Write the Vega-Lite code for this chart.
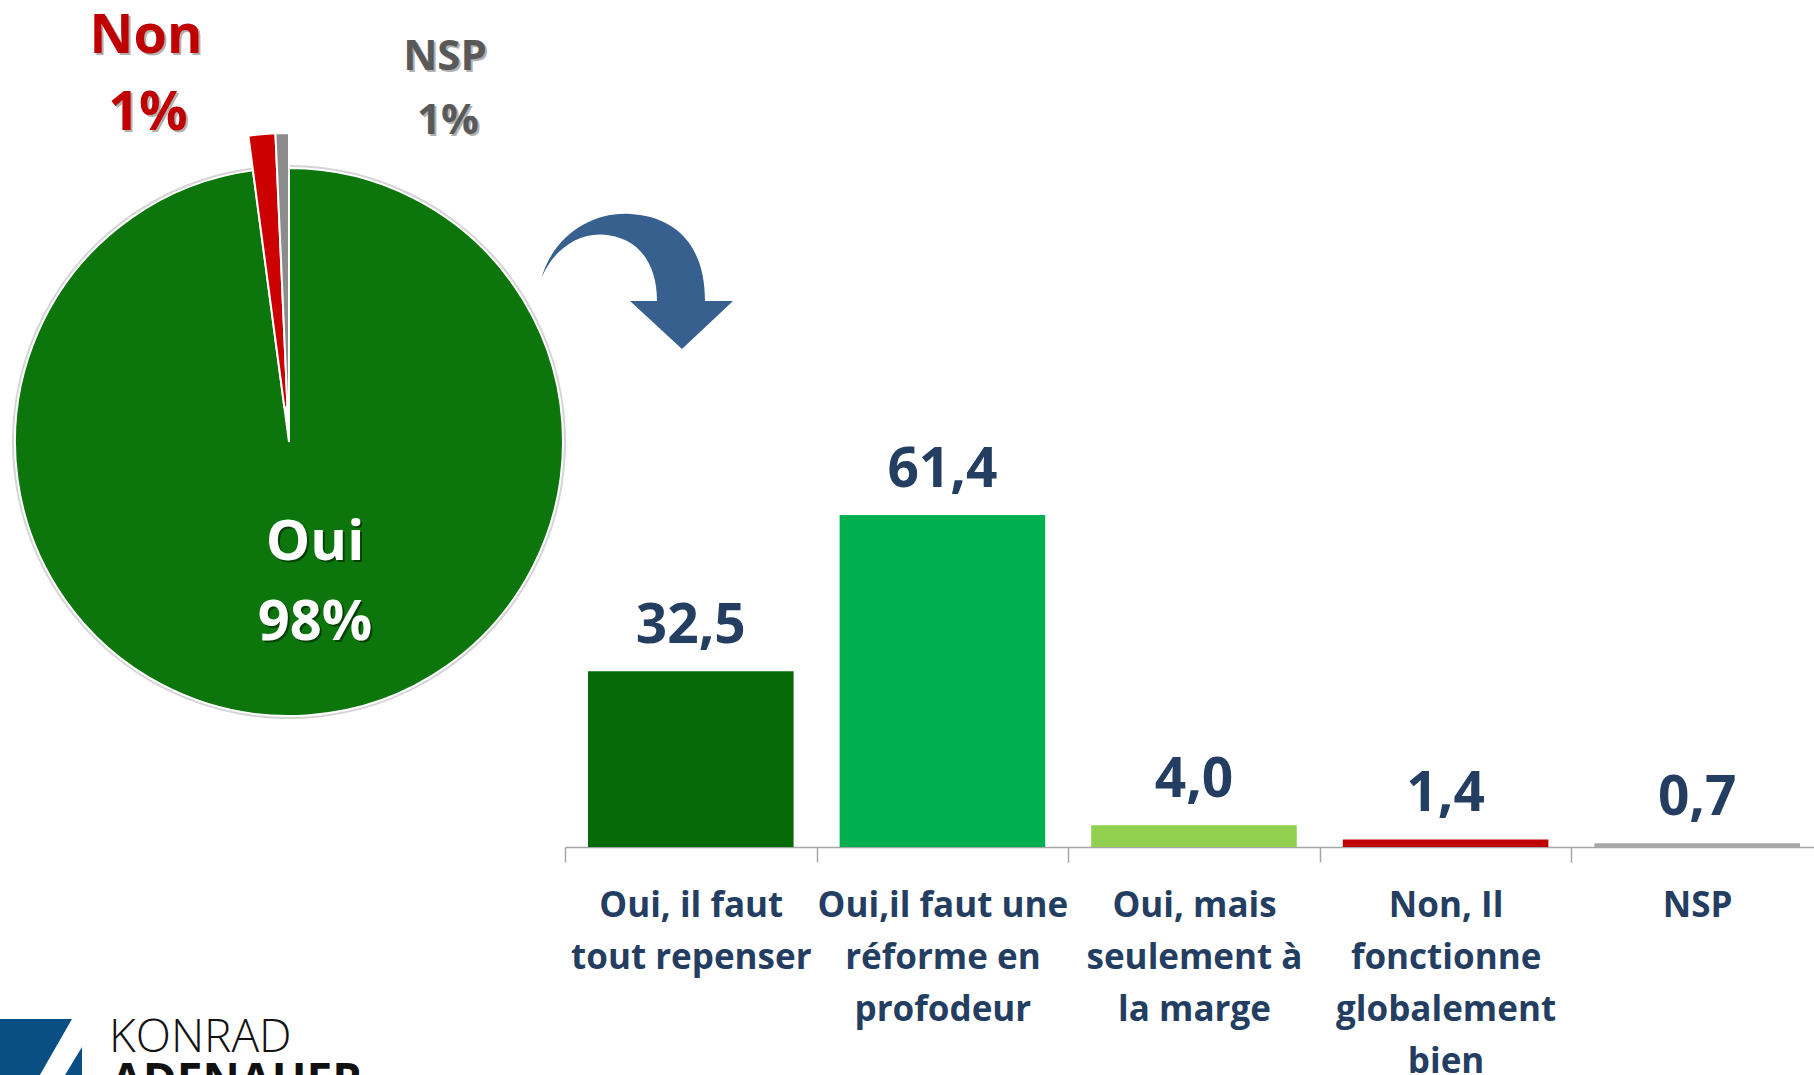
{
  "$schema": "https://vega.github.io/schema/vega-lite/v6.json",
  "padding": {"left": -20, "top": 0, "right": 0, "bottom": 0},
  "background": "white",
  "autosize": {"type": "pad"},
  "spacing": 0,
  "bounds": "flush",
  "config": {
    "view": {"stroke": null},
    "font": "Open Sans",
    "locale": {"number": {"decimal": ",", "thousands": ".", "grouping": [3], "currency": ["", " €"]}}
  },
  "resolve": {"scale": {"color": "independent"}},
  "datasets": {
    "pie": [
      {"k": "Oui", "v": 97.9, "p": "98%"},
      {"k": "Non", "v": 1.4, "p": "1%"},
      {"k": "NSP", "v": 0.7, "p": "1%"}
    ],
    "bars": [
      {"cat": "Oui, il faut|tout repenser", "v": 32.5},
      {"cat": "Oui,il faut une|réforme en|profodeur", "v": 61.4},
      {"cat": "Oui, mais|seulement à|la marge", "v": 4.0},
      {"cat": "Non, Il|fonctionne|globalement|bien", "v": 1.4},
      {"cat": "NSP", "v": 0.7}
    ]
  },
  "hconcat": [
    {
      "width": 578,
      "height": 884,
      "data": {"name": "pie"},
      "layer": [
        {
          "mark": {"type": "arc", "radius": 277, "fill": "#d4d4d4"},
          "encoding": {
            "theta": {"field": "v", "type": "quantitative"},
            "order": {"field": "v", "sort": "descending"},
            "opacity": {"condition": {"test": "datum.k === 'Oui'", "value": 1}, "value": 0}
          }
        },
        {
          "mark": {"type": "arc", "radius": 274, "stroke": "white", "strokeWidth": 2},
          "encoding": {
            "theta": {"field": "v", "type": "quantitative"},
            "order": {"field": "v", "sort": "descending"},
            "color": {"field": "k", "type": "nominal", "scale": {"domain": ["Oui", "Non", "NSP"], "range": ["#0c760c", "#cc0000", "#8c8c8c"]}, "legend": null},
            "opacity": {"condition": {"test": "datum.k === 'Oui'", "value": 1}, "value": 0}
          }
        },
        {
          "mark": {"type": "arc", "radius": 309, "radius2": 35, "stroke": "white", "strokeWidth": 2},
          "encoding": {
            "theta": {"field": "v", "type": "quantitative"},
            "order": {"field": "v", "sort": "descending"},
            "color": {"field": "k", "type": "nominal", "scale": {"domain": ["Oui", "Non", "NSP"], "range": ["#0c760c", "#cc0000", "#8c8c8c"]}, "legend": null},
            "opacity": {"condition": {"test": "datum.k !== 'Oui'", "value": 1}, "value": 0}
          }
        },
        {
          "transform": [{"filter": "datum.k === 'Non'"}],
          "mark": {"type": "text", "font": "Open Sans", "fontWeight": "bold", "fontSize": 54, "fill": "#000000", "opacity": 0.3, "align": "center", "baseline": "alphabetic", "dx": -141, "dy": -387},
          "encoding": {"text": {"field": "k"}}
        },
        {
          "transform": [{"filter": "datum.k === 'Non'"}],
          "mark": {"type": "text", "font": "Open Sans", "fontWeight": "bold", "fontSize": 54, "fill": "#c00000", "align": "center", "baseline": "alphabetic", "dx": -143, "dy": -389},
          "encoding": {"text": {"field": "k"}}
        },
        {
          "transform": [{"filter": "datum.k === 'Non'"}],
          "mark": {"type": "text", "font": "Open Sans", "fontWeight": "bold", "fontSize": 54, "fill": "#000000", "opacity": 0.3, "align": "center", "baseline": "alphabetic", "dx": -139, "dy": -310},
          "encoding": {"text": {"field": "p"}}
        },
        {
          "transform": [{"filter": "datum.k === 'Non'"}],
          "mark": {"type": "text", "font": "Open Sans", "fontWeight": "bold", "fontSize": 54, "fill": "#c00000", "align": "center", "baseline": "alphabetic", "dx": -141, "dy": -312},
          "encoding": {"text": {"field": "p"}}
        },
        {
          "transform": [{"filter": "datum.k === 'NSP'"}],
          "mark": {"type": "text", "font": "Open Sans", "fontWeight": "bold", "fontSize": 42, "fill": "#000000", "opacity": 0.3, "align": "center", "baseline": "alphabetic", "dx": 158, "dy": -370},
          "encoding": {"text": {"field": "k"}}
        },
        {
          "transform": [{"filter": "datum.k === 'NSP'"}],
          "mark": {"type": "text", "font": "Open Sans", "fontWeight": "bold", "fontSize": 42, "fill": "#595959", "align": "center", "baseline": "alphabetic", "dx": 156, "dy": -372},
          "encoding": {"text": {"field": "k"}}
        },
        {
          "transform": [{"filter": "datum.k === 'NSP'"}],
          "mark": {"type": "text", "font": "Open Sans", "fontWeight": "bold", "fontSize": 42, "fill": "#000000", "opacity": 0.3, "align": "center", "baseline": "alphabetic", "dx": 161, "dy": -306},
          "encoding": {"text": {"field": "p"}}
        },
        {
          "transform": [{"filter": "datum.k === 'NSP'"}],
          "mark": {"type": "text", "font": "Open Sans", "fontWeight": "bold", "fontSize": 42, "fill": "#595959", "align": "center", "baseline": "alphabetic", "dx": 159, "dy": -308},
          "encoding": {"text": {"field": "p"}}
        },
        {
          "transform": [{"filter": "datum.k === 'Oui'"}],
          "mark": {"type": "text", "font": "Open Sans", "fontWeight": "bold", "fontSize": 56, "fill": "#000000", "opacity": 0.45, "align": "center", "baseline": "alphabetic", "dx": 28, "dy": 120},
          "encoding": {"text": {"field": "k"}}
        },
        {
          "transform": [{"filter": "datum.k === 'Oui'"}],
          "mark": {"type": "text", "font": "Open Sans", "fontWeight": "bold", "fontSize": 56, "fill": "white", "align": "center", "baseline": "alphabetic", "dx": 26, "dy": 118},
          "encoding": {"text": {"field": "k"}}
        },
        {
          "transform": [{"filter": "datum.k === 'Oui'"}],
          "mark": {"type": "text", "font": "Open Sans", "fontWeight": "bold", "fontSize": 56, "fill": "#000000", "opacity": 0.45, "align": "center", "baseline": "alphabetic", "dx": 28, "dy": 200},
          "encoding": {"text": {"field": "p"}}
        },
        {
          "transform": [{"filter": "datum.k === 'Oui'"}],
          "mark": {"type": "text", "font": "Open Sans", "fontWeight": "bold", "fontSize": 56, "fill": "white", "align": "center", "baseline": "alphabetic", "dx": 26, "dy": 198},
          "encoding": {"text": {"field": "p"}}
        },
        {
          "data": {"values": [{"a": "KONRAD", "b": "ADENAUER"}]},
          "layer": [
            {
              "mark": {"type": "text", "font": "Open Sans", "fontWeight": 300, "fontSize": 46, "fill": "#111111", "align": "left", "baseline": "alphabetic", "dx": -180, "dy": 610},
              "encoding": {"text": {"field": "a"}}
            },
            {
              "mark": {"type": "text", "font": "Open Sans", "fontWeight": "bold", "fontSize": 46, "fill": "#111111", "align": "left", "baseline": "alphabetic", "dx": -178, "dy": 654},
              "encoding": {"text": {"field": "b"}}
            },
            {
              "mark": {"type": "point", "shape": "M -2.89 5.77 L -2.17 5.77 L -2.52 6.38 L -2.89 6.38 Z M -2.07 6.05 L -2.07 6.38 L -2.27 6.38 Z", "size": 40000, "filled": true, "fill": "#0a4f84", "opacity": 1, "strokeWidth": 0},
              "encoding": {}
            },
            {
              "mark": {"type": "point", "shape": "M 2.52 -1.62 C 2.63 -2.055 3.03 -2.305 3.41 -2.28 C 3.88 -2.255 4.16 -1.955 4.16 -1.41 L 4.44 -1.41 L 3.93 -0.93 L 3.41 -1.41 L 3.68 -1.41 C 3.68 -1.805 3.48 -2.055 3.13 -2.075 C 2.83 -2.085 2.6 -1.855 2.52 -1.62 Z", "size": 40000, "filled": true, "fill": "#37608f", "opacity": 1, "strokeWidth": 0},
              "encoding": {}
            }
          ]
        }
      ]
    },
    {
      "width": 1245,
      "height": 847,
      "data": {"name": "bars"},
      "encoding": {
        "x": {
          "field": "cat", "type": "nominal", "sort": null,
          "scale": {"paddingInner": 0, "paddingOuter": 0, "range": [-13, 1245]},
          "axis": {
            "title": null,
            "labelExpr": "isValid(datum.value) ? split(datum.value, '|') : ''",
            "labelAngle": 0,
            "labelFont": "Open Sans",
            "labelFontWeight": "bold",
            "labelFontSize": 35,
            "labelColor": "#243e62",
            "labelLineHeight": 52,
            "labelBaseline": "alphabetic",
            "labelPadding": 54,
            "labelLimit": 0,
            "labelOverlap": false,
            "labelBound": false,
            "domainColor": "#a6a6a6",
            "domainWidth": 1.5,
            "tickColor": "#a6a6a6",
            "tickWidth": 1.5,
            "tickSize": 15,
            "tickBand": "extent",
            "grid": false
          }
        },
        "y": {"field": "v", "type": "quantitative", "scale": {"domain": [0, 156.6], "nice": false}, "axis": null}
      },
      "layer": [
        {
          "mark": {"type": "bar", "width": {"band": 0.817}},
          "encoding": {
            "color": {
              "field": "cat", "type": "nominal",
              "scale": {
                "domain": ["Oui, il faut|tout repenser", "Oui,il faut une|réforme en|profodeur", "Oui, mais|seulement à|la marge", "Non, Il|fonctionne|globalement|bien", "NSP"],
                "range": ["#066a06", "#00b050", "#92d050", "#c00000", "#a6a6a6"]
              },
              "legend": null
            }
          }
        },
        {
          "mark": {"type": "text", "font": "Open Sans", "fontWeight": "bold", "fontSize": 55, "fill": "#243e62", "align": "center", "baseline": "alphabetic", "dy": -28},
          "encoding": {"text": {"field": "v", "type": "quantitative", "format": ".1f"}}
        }
      ]
    }
  ]
}
